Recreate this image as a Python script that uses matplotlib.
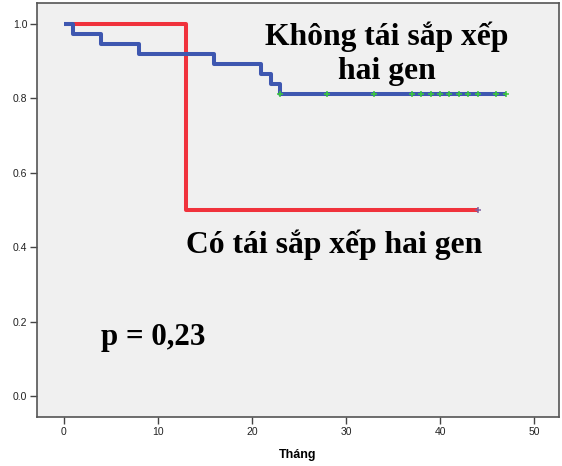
import matplotlib
matplotlib.use("Agg")
import matplotlib.pyplot as plt

# Kaplan-Meier step data
blue_t = [0, 1, 4, 8, 16, 21, 22, 23, 47]
blue_s = [1.0, 0.973, 0.946, 0.919, 0.892, 0.865, 0.838, 0.811, 0.811]
blue_cens = [23, 28, 33, 37, 38, 39, 40, 41, 42, 43, 44, 46, 47]

red_t = [0, 13, 44]
red_s = [1.0, 0.5, 0.5]
red_cens = [44]

xticks = [0, 10, 20, 30, 40, 50]
yticks = [0.0, 0.2, 0.4, 0.6, 0.8, 1.0]
xlabel = "Tháng"
label_blue_1 = "Không tái sắp xếp"
label_blue_2 = "hai gen"
label_red = "Có tái sắp xếp hai gen"
p_text = "p = 0,23"

fig = plt.figure(figsize=(5.62, 4.66), dpi=100)
fig.patch.set_facecolor("white")
ax = fig.add_axes([37/562, 1-417/466, (559-37)/562, (417-3)/466])
ax.set_facecolor("#f0f0f0")

ax.plot(red_t, red_s, drawstyle="steps-post", color="#f0323c", lw=2.9, solid_capstyle="butt", zorder=3)
ax.plot(blue_t, blue_s, drawstyle="steps-post", color="#3e57b0", lw=2.9, solid_capstyle="butt", zorder=4)

def surv_at(ts, ss, t):
    v = ss[0]
    for a, b in zip(ts, ss):
        if a <= t:
            v = b
    return v

ax.plot(blue_cens, [surv_at(blue_t, blue_s, t) for t in blue_cens], "+",
        color="#3cc83c", ms=5, mew=1.1, zorder=5)
ax.plot(red_cens, [surv_at(red_t, red_s, t) for t in red_cens], "+",
        color="#8060a0", ms=5, mew=1.1, zorder=5)

ax.set_xlim(-2.85, 52.65)
ax.set_ylim(-0.056, 1.056)
ax.set_xticks(xticks)
ax.set_yticks(yticks)
ax.set_xticklabels([str(x) for x in xticks], fontsize=7.5, family="Liberation Sans", color="#222222")
ax.set_yticklabels([f"{y:.1f}" for y in yticks], fontsize=7.5, family="Liberation Sans", color="#222222")
ax.tick_params(direction="out", length=5, width=1, color="#444444", pad=2)
for s in ax.spines.values():
    s.set_color("#555555")
    s.set_linewidth(1.2)
ax.set_xlabel(xlabel, fontsize=9, fontweight="bold", family="Liberation Sans", labelpad=9)

tfont = dict(family="Liberation Serif", fontweight="bold", color="black")
ax.text(0.670, 0.899, label_blue_1, transform=ax.transAxes, ha="center", va="baseline",
        fontsize=22.8, **tfont)
ax.text(0.670, 0.816, label_blue_2, transform=ax.transAxes, ha="center", va="baseline",
        fontsize=22.8, **tfont)
ax.text(0.569, 0.396, label_red, transform=ax.transAxes, ha="center", va="baseline",
        fontsize=22.8, **tfont)
ax.text(0.123, 0.174, p_text, transform=ax.transAxes, ha="left", va="baseline",
        fontsize=22.3, **tfont)

fig.savefig("out.png", dpi=100)
